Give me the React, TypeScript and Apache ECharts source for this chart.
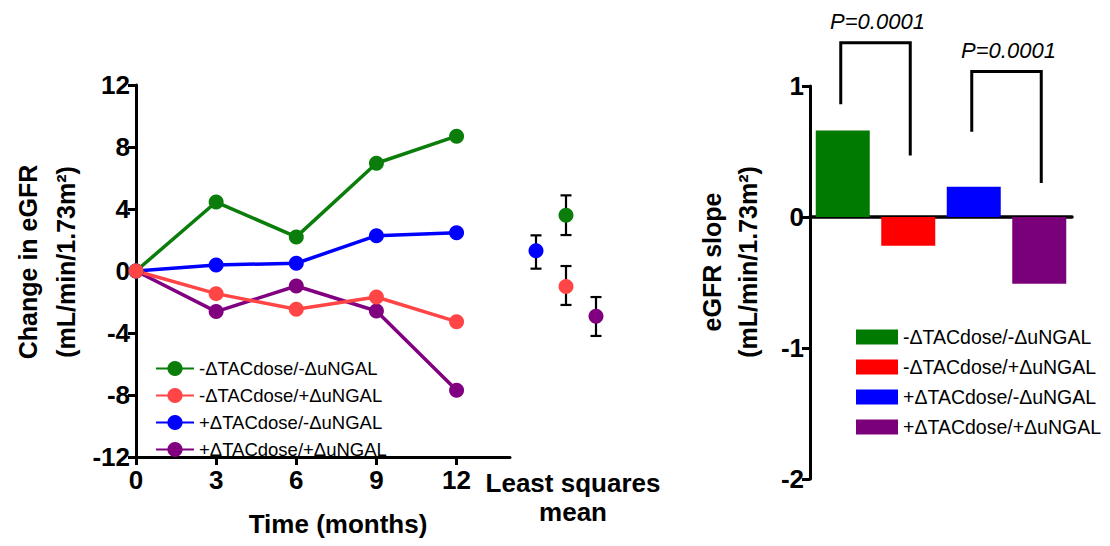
import React, { useEffect, useRef } from 'react';
import * as echarts from 'echarts';

// ---------- data ----------
const groupNames = ['-ΔTACdose/-ΔuNGAL', '-ΔTACdose/+ΔuNGAL', '+ΔTACdose/-ΔuNGAL', '+ΔTACdose/+ΔuNGAL'];
const lineColors = ['#0a7d0a', '#ff4545', '#0000ff', '#800080'];
const barColors = ['#007a00', '#ff0000', '#0000ff', '#7a007a'];

const months = [0, 3, 6, 9, 12];
const monthTicks = [0, 3, 6, 9, 12];
const greenChange = [0, 4.45, 2.2, 6.95, 8.7];
const redChange = [0, -1.46, -2.47, -1.68, -3.27];
const blueChange = [0, 0.39, 0.5, 2.28, 2.47];
const purpleChange = [0, -2.62, -0.97, -2.58, -7.7];
const changeSeries = [greenChange, redChange, blueChange, purpleChange];
const drawOrder = [3, 2, 0, 1];

// least squares means (slot = horizontal dodge position)
const lsSlots = ['s1', 's2', 's3'];
const lsSlotIndex = [1, 1, 0, 2];
const lsMean = [3.6, -1.0, 1.3, -2.92];
const lsLow = [2.32, -2.19, 0.15, -4.19];
const lsHigh = [4.88, 0.32, 2.3, -1.68];

// eGFR slope bars
const slopeCategories = ['g1', 'g2', 'g3', 'g4'];
const slopes = [0.66, -0.22, 0.23, -0.51];

// significance brackets
const bracketFrom = [0, 2];
const bracketTo = [1, 3];
const bracketTop = [1.33, 1.11];
const bracketLeftEnd = [0.86, 0.65];
const bracketRightEnd = [0.47, 0.26];
const pLabels = ['P=0.0001', 'P=0.0001'];

const FONT = 'Liberation Sans, Arial, Helvetica, sans-serif';

export default function App() {
  const ref = useRef<HTMLDivElement>(null);
  useEffect(() => {
    document.body.style.margin = '0';
    const chart = echarts.init(ref.current!, null, { renderer: 'svg' });

    const lineSeries = drawOrder.map((i) => ({
      type: 'line',
      name: groupNames[i],
      xAxisIndex: 0,
      yAxisIndex: 0,
      data: months.map((m, k) => [m, changeSeries[i][k]]),
      symbol: 'circle',
      symbolSize: 15,
      showSymbol: true,
      lineStyle: { color: lineColors[i], width: 3.5 },
      itemStyle: { color: lineColors[i] },
      z: 3,
    }));

    const barSeries = groupNames.map((g, i) => ({
      type: 'bar',
      name: 'slope ' + g,
      xAxisIndex: 2,
      yAxisIndex: 2,
      data: slopes.map((v, j) => (j === i ? v : '-')),
      barWidth: 54,
      barGap: '-100%',
      itemStyle: { color: barColors[i] },
    }));

    const axisText = { color: '#000', fontFamily: FONT, fontWeight: 'bold' as const, fontSize: 26 };
    const axisLine = { show: true, onZero: false, lineStyle: { color: '#000', width: 3 } };
    const axisTick = { show: true, length: 8, lineStyle: { color: '#000', width: 3 } };

    const option: any = {
      animation: false,
      backgroundColor: '#fff',
      grid: [
        { left: 136, top: 85, width: 374, height: 372 },
        { left: 521, top: 85, width: 90, height: 372 },
        { left: 810, top: 86, width: 262, height: 393 },
      ],
      xAxis: [
        {
          type: 'value', gridIndex: 0, min: 0, max: 14,
          axisLine,
          axisTick: { ...axisTick, customValues: monthTicks },
          axisLabel: { ...axisText, customValues: monthTicks, margin: 10 },
          splitLine: { show: false },
        },
        { type: 'category', gridIndex: 1, data: lsSlots, show: false },
        {
          type: 'category', gridIndex: 2, data: slopeCategories,
          axisLine: { show: true, onZero: true, lineStyle: { color: '#000', width: 3.5 } },
          axisTick: { show: false }, axisLabel: { show: false },
        },
      ],
      yAxis: [
        {
          type: 'value', gridIndex: 0, min: -12, max: 12, interval: 4,
          axisLine, axisTick,
          axisLabel: { ...axisText, margin: 6 },
          splitLine: { show: false },
        },
        { type: 'value', gridIndex: 1, min: -12, max: 12, show: false },
        {
          type: 'value', gridIndex: 2, min: -2, max: 1, interval: 1,
          axisLine, axisTick,
          axisLabel: { ...axisText, margin: 6 },
          splitLine: { show: false },
        },
      ],
      legend: [
        {
          data: groupNames,
          orient: 'vertical',
          left: 150, top: 354,
          itemWidth: 38, itemHeight: 19, itemGap: 8,
          selectedMode: false,
          textStyle: { color: '#000', fontFamily: FONT, fontSize: 18.5, lineHeight: 19 },
        },
        {
          data: groupNames.map((g) => 'slope ' + g),
          formatter: (n: string) => n.replace('slope ', ''),
          icon: 'rect',
          orient: 'vertical',
          left: 851, top: 322,
          itemWidth: 42, itemHeight: 15, itemGap: 10,
          selectedMode: false,
          textStyle: { color: '#000', fontFamily: FONT, fontSize: 19.5, lineHeight: 20 },
        },
      ],
      series: [
        ...lineSeries,
        {
          type: 'custom',
          name: 'lsErr',
          xAxisIndex: 1, yAxisIndex: 1,
          z: 2,
          clip: false,
          data: lsSlotIndex.map((s, i) => [s, lsLow[i], lsHigh[i]]),
          renderItem: (params: any, api: any) => {
            const x = api.value(0);
            const lo = api.coord([x, api.value(1)]);
            const hi = api.coord([x, api.value(2)]);
            const w = 5.5;
            const st = { stroke: '#000', lineWidth: 2.2, fill: 'none' };
            return {
              type: 'group',
              children: [
                { type: 'line', shape: { x1: lo[0], y1: lo[1], x2: hi[0], y2: hi[1] }, style: st },
                { type: 'line', shape: { x1: lo[0] - w, y1: lo[1], x2: lo[0] + w, y2: lo[1] }, style: st },
                { type: 'line', shape: { x1: hi[0] - w, y1: hi[1], x2: hi[0] + w, y2: hi[1] }, style: st },
              ],
            };
          },
        },
        {
          type: 'scatter',
          name: 'lsMean',
          xAxisIndex: 1, yAxisIndex: 1,
          z: 4,
          symbolSize: 15,
          itemStyle: { opacity: 1 },
          data: lsSlotIndex.map((s, i) => ({ value: [s, lsMean[i]], itemStyle: { color: lineColors[i], opacity: 1 } })),
        },
        ...barSeries,
        {
          type: 'custom',
          name: 'brackets',
          xAxisIndex: 2, yAxisIndex: 2,
          clip: false,
          z: 5,
          data: bracketFrom.map((f, i) => [f, bracketTo[i], bracketTop[i], bracketLeftEnd[i], bracketRightEnd[i]]),
          renderItem: (params: any, api: any) => {
            const a = api.coord([api.value(0), api.value(3)]);
            const b = api.coord([api.value(0), api.value(2)]);
            const c = api.coord([api.value(1), api.value(2)]);
            const d = api.coord([api.value(1), api.value(4)]);
            return {
              type: 'group',
              children: [
                {
                  type: 'polyline',
                  shape: { points: [[a[0] - 2, a[1]], [b[0] - 2, b[1]], [c[0] + 2, c[1]], [d[0] + 2, d[1]]] },
                  style: { stroke: '#000', lineWidth: 3, fill: 'none' },
                },
                {
                  type: 'text',
                  x: (b[0] + c[0]) / 2 + 2,
                  y: b[1] - 21,
                  style: {
                    text: pLabels[params.dataIndex],
                    fill: '#000',
                    font: 'italic 22px ' + FONT,
                    textAlign: 'center',
                    textVerticalAlign: 'middle',
                  },
                },
              ],
            };
          },
        },
      ],
      graphic: [
        { type: 'text', x: 28, y: 262, rotation: Math.PI / 2, style: { text: 'Change in eGFR', font: 'bold 25px ' + FONT, fill: '#000', textAlign: 'center', textVerticalAlign: 'middle' } },
        { type: 'text', x: 66, y: 262, rotation: Math.PI / 2, style: { text: '(mL/min/1.73m²)', font: 'bold 25px ' + FONT, fill: '#000', textAlign: 'center', textVerticalAlign: 'middle' } },
        { type: 'text', x: 338, y: 524, style: { text: 'Time (months)', font: 'bold 26px ' + FONT, fill: '#000', textAlign: 'center', textVerticalAlign: 'middle' } },
        { type: 'text', x: 573, y: 483, style: { text: 'Least squares', font: 'bold 26px ' + FONT, fill: '#000', textAlign: 'center', textVerticalAlign: 'middle' } },
        { type: 'text', x: 573, y: 512, style: { text: 'mean', font: 'bold 26px ' + FONT, fill: '#000', textAlign: 'center', textVerticalAlign: 'middle' } },
        { type: 'text', x: 712, y: 262, rotation: Math.PI / 2, style: { text: 'eGFR slope', font: 'bold 25px ' + FONT, fill: '#000', textAlign: 'center', textVerticalAlign: 'middle' } },
        { type: 'text', x: 748, y: 262, rotation: Math.PI / 2, style: { text: '(mL/min/1.73m²)', font: 'bold 25px ' + FONT, fill: '#000', textAlign: 'center', textVerticalAlign: 'middle' } },
      ],
    };

    chart.setOption(option);
    return () => chart.dispose();
  }, []);
  return <div ref={ref} style={{ width: 1110, height: 546 }} />;
}
